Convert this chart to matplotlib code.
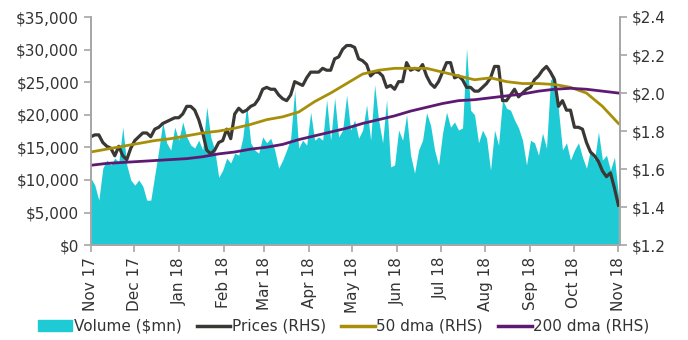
import matplotlib
matplotlib.use("Agg")
import matplotlib.pyplot as plt
import matplotlib.dates as mdates
from matplotlib.patches import Patch
from matplotlib.lines import Line2D
import pandas as pd

# daily volume ($mn), read roughly every ~3 days
volume = [10300, 9200, 6900, 11800, 13050, 12300, 13350, 12750, 18100, 12300,
          10000, 9200, 10000, 9060, 6900, 6900, 10750, 14580, 18880, 15660,
          14580, 18100, 16100, 18900, 16600, 15350, 14900, 16100, 14600, 21200,
          16600, 14600, 10400, 11500, 13350, 12600, 14100, 13800, 16400, 21500,
          15700, 14600, 14100, 16600, 15700, 16400, 14600, 11800, 13050, 14600,
          16400, 23800, 14900, 16100, 15350, 20400, 16100, 16600, 16100, 22300,
          16100, 22600, 16600, 17650, 23000, 17650, 19200, 16400, 17650, 21500,
          16100, 24600, 19200, 15700, 22300, 12000, 12300, 17650, 16100, 20000,
          13800, 11050, 14600, 16100, 20300, 18400, 14600, 12300, 17200, 20400,
          18100, 18900, 17650, 18000, 30200, 20700, 20000, 15700, 17650, 16400,
          11500, 17650, 15350, 22300, 21000, 20700, 19200, 18000, 16100, 12300,
          16100, 15700, 13800, 17200, 14900, 25300, 26100, 20700, 14600, 15700,
          13050, 14600, 15700, 13500, 11800, 14600, 13050, 17350, 13050, 13800,
          11500, 13500, 7700]

# price (RHS), same sampling as volume
prices = [1.77, 1.78, 1.78, 1.74, 1.72, 1.71, 1.67, 1.72, 1.67, 1.65,
          1.71, 1.75, 1.77, 1.79, 1.79, 1.77, 1.81, 1.82, 1.84, 1.85,
          1.86, 1.87, 1.87, 1.89, 1.93, 1.93, 1.91, 1.86, 1.79, 1.70,
          1.68, 1.70, 1.74, 1.75, 1.81, 1.76, 1.89, 1.92, 1.90, 1.91,
          1.93, 1.94, 1.97, 2.02, 2.03, 2.02, 2.02, 1.99, 1.97, 1.96,
          1.99, 2.06, 2.05, 2.04, 2.08, 2.11, 2.11, 2.11, 2.13, 2.12,
          2.12, 2.18, 2.19, 2.23, 2.25, 2.25, 2.24, 2.18, 2.17, 2.15,
          2.09, 2.11, 2.11, 2.09, 2.03, 2.04, 2.02, 2.06, 2.06, 2.16,
          2.12, 2.13, 2.12, 2.15, 2.09, 2.05, 2.03, 2.06, 2.11, 2.16,
          2.16, 2.08, 2.09, 2.07, 2.03, 2.03, 2.01, 2.01, 2.03, 2.05,
          2.08, 2.14, 2.14, 1.96, 1.96, 1.99, 2.02, 1.98, 2.00, 2.02,
          2.03, 2.07, 2.09, 2.12, 2.14, 2.11, 2.07, 1.93, 1.96, 1.91,
          1.91, 1.82, 1.82, 1.81, 1.74, 1.69, 1.67, 1.64, 1.59, 1.56,
          1.58, 1.50, 1.41]

# moving averages (RHS), read about every two weeks
dma50 = [1.69, 1.705, 1.72, 1.735, 1.75, 1.76, 1.775, 1.79, 1.80, 1.815,
         1.835, 1.86, 1.875, 1.90, 1.955, 2.00, 2.05, 2.10, 2.12, 2.13,
         2.13, 2.13, 2.11, 2.09, 2.07, 2.08, 2.06, 2.05, 2.05, 2.045,
         2.03, 2.00, 1.93, 1.84]
dma200 = [1.62, 1.63, 1.635, 1.64, 1.645, 1.65, 1.655, 1.665, 1.68, 1.69,
          1.705, 1.715, 1.73, 1.755, 1.775, 1.795, 1.815, 1.84, 1.86, 1.88,
          1.905, 1.925, 1.945, 1.96, 1.965, 1.975, 1.985, 1.995, 2.01, 2.02,
          2.025, 2.02, 2.01, 2.00]

start, end = pd.Timestamp("2017-11-01"), pd.Timestamp("2018-11-01")
d_daily = pd.date_range(start, end, periods=len(prices))
d_ma = pd.date_range(start, end, periods=len(dma50))

c_vol = "#1ECBD4"
c_px = "#3A3835"
c_50 = "#A88F0A"
c_200 = "#5E1A72"
c_txt = "#333333"
c_axis = "#A6A6A6"

plt.rcParams["font.family"] = ["DejaVu Sans"]
fig = plt.figure(figsize=(6.88, 3.40), dpi=100)
ax = fig.add_axes([0.132, 0.279, 0.769, 0.671])
ax2 = ax.twinx()

ax.fill_between(d_daily, volume, 0, color=c_vol, lw=0)
ax2.plot(d_daily, prices, color=c_px, lw=2.3)
ax2.plot(d_ma, dma50, color=c_50, lw=2.0)
ax2.plot(d_ma, dma200, color=c_200, lw=2.0)

ax.set_ylim(0, 35000)
ax.set_yticks(range(0, 35001, 5000))
ax.set_yticklabels(["${:,}".format(v) for v in range(0, 35001, 5000)])
ax2.set_ylim(1.2, 2.4)
ax2.set_yticks([1.2, 1.4, 1.6, 1.8, 2.0, 2.2, 2.4])
ax2.set_yticklabels(["$%.1f" % v for v in [1.2, 1.4, 1.6, 1.8, 2.0, 2.2, 2.4]])

ax.set_xlim(start, pd.Timestamp("2018-11-02"))
ax.xaxis.set_major_locator(mdates.MonthLocator())
ax.xaxis.set_major_formatter(mdates.DateFormatter("%b %y"))
plt.setp(ax.get_xticklabels(), rotation=90)

for a in (ax, ax2):
    a.spines["top"].set_visible(False)
    for s in ("left", "right", "bottom"):
        a.spines[s].set_color(c_axis)
        a.spines[s].set_linewidth(1.2)
    a.tick_params(colors=c_axis, labelcolor=c_txt, labelsize=11, length=5, width=1.2)

legend_items = [Patch(color=c_vol, label="Volume ($mn)"),
                Line2D([], [], color=c_px, lw=2.5, label="Prices (RHS)"),
                Line2D([], [], color=c_50, lw=2.5, label="50 dma (RHS)"),
                Line2D([], [], color=c_200, lw=2.5, label="200 dma (RHS)")]
fig.legend(handles=legend_items, loc="center", bbox_to_anchor=(0.5, 0.04), ncol=4,
           frameon=False, fontsize=11, handlelength=2.2, handletextpad=0.1,
           columnspacing=1.0, labelcolor=c_txt)

fig.savefig("out.png", dpi=100)
